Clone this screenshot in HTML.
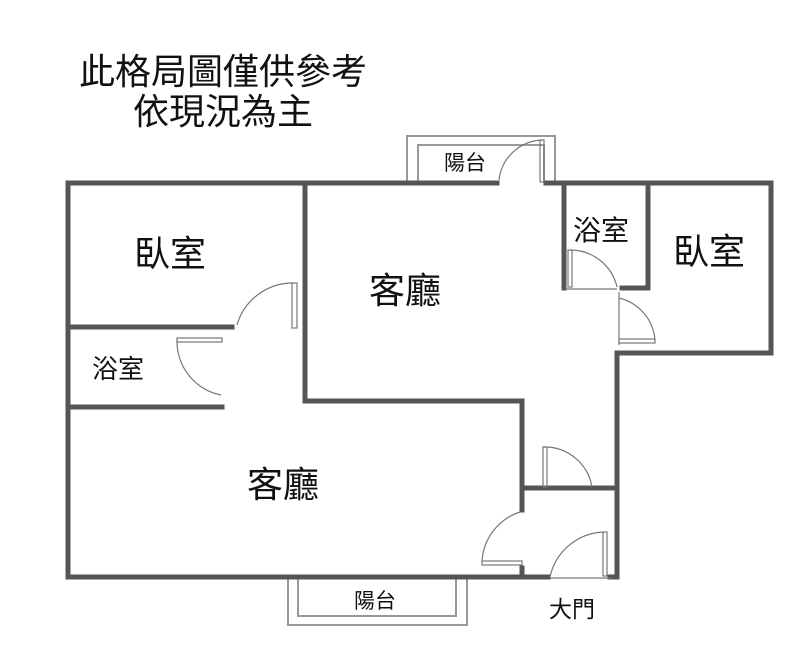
<!DOCTYPE html>
<html><head><meta charset="utf-8"><style>
html,body{margin:0;padding:0;background:#fff;}
svg{display:block}
text{font-family:"Liberation Sans","Noto Sans CJK TC",sans-serif;fill:#111;}
</style></head><body>
<svg width="800" height="656" viewBox="0 0 800 656" xmlns="http://www.w3.org/2000/svg">
<text x="223" y="84" font-size="36" text-anchor="middle">此格局圖僅供參考</text>
<text x="223" y="124" font-size="36" text-anchor="middle">依現況為主</text>

<g fill="none" stroke="#999" stroke-width="2">
<path d="M407 183 V136 H555 V183"/>
<path d="M418 183 V145 H544 V183"/>
<path d="M288 577 V625 H467 V577"/>
<path d="M298 577 V616 H456 V577"/>
</g>

<g fill="none" stroke="#555" stroke-width="5" stroke-linecap="square">
<path d="M68 183 H497"/>
<path d="M546 183 H771 V353 H620"/>
<path d="M68 183 V577 H520"/>
<path d="M520 577 H548"/>
<path d="M617 353 V577 H610"/>
<path d="M305 183 V401 H522 V510"/>
<path d="M68 327 H232"/>
<path d="M68 407 H222"/>
<path d="M564 183 V288"/>
<path d="M648 183 V288 H622"/>
<path d="M522 488 H614"/>
<path d="M522 568 V577"/>
</g>

<g fill="none" stroke="#777" stroke-width="1.2">
<path d="M499 180 A45 45 0 0 1 542 140"/>
<rect x="540" y="140" width="4" height="42"/>
<path d="M237 325 A58 58 0 0 1 293 283"/>
<rect x="292" y="283" width="5" height="45"/>
<path d="M177 340 A55 55 0 0 0 221 395"/>
<rect x="177" y="338" width="45" height="4"/>
<path d="M570 250 A48 48 0 0 1 617 287"/>
<rect x="568" y="250" width="4" height="37"/>
<path d="M566 289 H617"/>
<path d="M619 298 A47 47 0 0 1 655 340"/>
<rect x="619" y="339" width="36" height="4"/>
<path d="M619 292 V345"/>
<path d="M543 447 A48 48 0 0 1 592 487"/>
<rect x="543" y="447" width="4" height="40"/>
<path d="M520 512 A55 55 0 0 0 482 562"/>
<rect x="482" y="561" width="40" height="4"/>
<path d="M550 577 A57 57 0 0 1 604 532"/>
<rect x="603" y="532" width="4" height="44"/>
<path d="M550 578 H612"/>
</g>

<text x="170" y="266" font-size="36" text-anchor="middle">臥室</text>
<text x="405" y="303" font-size="36" text-anchor="middle">客廳</text>
<text x="601" y="240" font-size="28" text-anchor="middle">浴室</text>
<text x="709" y="264" font-size="36" text-anchor="middle">臥室</text>
<text x="118" y="378" font-size="26" text-anchor="middle">浴室</text>
<text x="283" y="497" font-size="36" text-anchor="middle">客廳</text>
<text x="465" y="170" font-size="21" text-anchor="middle">陽台</text>
<text x="375" y="608" font-size="21" text-anchor="middle">陽台</text>
<text x="572" y="617" font-size="23" text-anchor="middle">大門</text>
</svg>
</body></html>
